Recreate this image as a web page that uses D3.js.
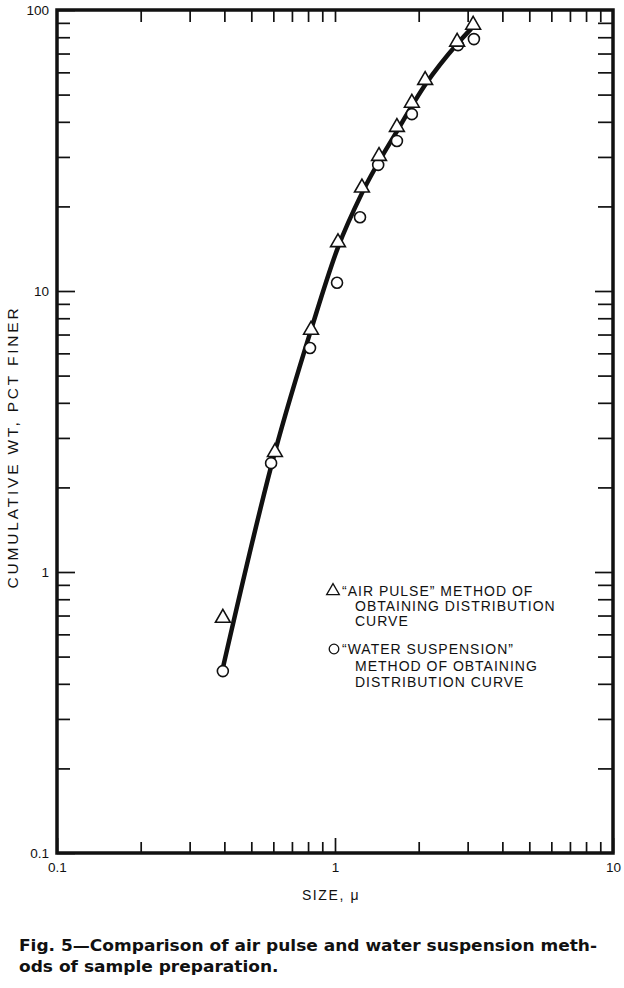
<!DOCTYPE html>
<html><head><meta charset="utf-8">
<script src="https://cdn.jsdelivr.net/npm/d3@7"></script>
<style>
html,body{margin:0;padding:0;background:#fff;}
svg{display:block;}
text{font-family:"Liberation Sans",Arial,sans-serif;fill:#111;}
</style></head>
<body>
<script>
// ---- data ----
const airSize = [0.395, 0.608, 0.82, 1.025, 1.25, 1.44, 1.67, 1.89, 2.11, 2.75, 3.14];
const airPct  = [0.686, 2.67, 7.27, 14.9, 23.3, 30.2, 38.3, 46.7, 56.3, 77, 88.5];
const waterSize = [0.395, 0.589, 0.813, 1.017, 1.23, 1.43, 1.67, 1.89, 2.77, 3.16];
const waterPct  = [0.444, 2.44, 6.27, 10.7, 18.3, 28.1, 34.2, 42.6, 75, 78.8];
const curveSize = [0.395, 0.608, 0.82, 1.025, 1.25, 1.68, 2.12, 2.75, 3.08];
const curvePct  = [0.455, 2.67, 7.27, 14.3, 22.3, 37.4, 54.5, 75.7, 85.5];
const xMajor = [0.1, 1, 10];
const xMajorLabels = ["0.1", "1", "10"];
const yMajor = [0.1, 1, 10, 100];
const yMajorLabels = ["0.1", "1", "10", "100"];
const xTitle = "SIZE, \u03BC";
const yTitle = "CUMULATIVE WT,  PCT FINER";
const legendAir = ["\u201CAIR PULSE\u201D METHOD OF", "OBTAINING DISTRIBUTION", "CURVE"];
const legendWater = ["\u201CWATER SUSPENSION\u201D", "METHOD OF OBTAINING", "DISTRIBUTION CURVE"];
const caption = ["Fig. 5\u2014Comparison of air pulse and water suspension meth-", "ods of sample preparation."];

const W = 624, H = 988;
const L = 57, R = 613, T = 10, B = 853;

const svg = d3.select("body").append("svg").attr("width", W).attr("height", H);

const x = d3.scaleLog().domain([0.1, 10]).range([L, R]);
const y = d3.scaleLog().domain([0.1, 100]).range([B, T]);

// minor + major tick values
const minorX = [], minorY = [];
[0.1, 1].forEach(d => { for (let k = 2; k <= 9; k++) minorX.push(+(d * k).toFixed(3)); });
[0.1, 1, 10].forEach(d => { for (let k = 2; k <= 9; k++) minorY.push(+(d * k).toFixed(3)); });
const allX = xMajor.concat(minorX), allY = yMajor.concat(minorY);
const isMajor = (arr) => (v) => arr.some(m => Math.abs(m - v) < 1e-9);

function styleAxis(g, majorFn, majLen, minLen, sign, horiz) {
  g.select(".domain").remove();
  g.selectAll(".tick line").attr("stroke", "#111").attr("stroke-width", 1.7)
    .each(function(d) {
      const len = (majorFn(d) ? majLen : minLen) * sign;
      if (horiz) d3.select(this).attr("y2", len); else d3.select(this).attr("x2", len);
    });
}

// bottom axis
const gB = svg.append("g").attr("transform", `translate(0,${B})`)
  .call(d3.axisBottom(x).tickValues(allX).tickSize(0).tickPadding(9)
    .tickFormat(d => { const i = xMajor.findIndex(m => Math.abs(m - d) < 1e-9); return i >= 0 ? xMajorLabels[i] : ""; }));
styleAxis(gB, isMajor(xMajor), 15, 11, -1, true);
gB.attr("font-size", 13.5);
gB.selectAll("text").attr("dy", "0.75em");

// top axis
const gT = svg.append("g").attr("transform", `translate(0,${T})`)
  .call(d3.axisTop(x).tickValues(allX.filter(v => v > 0.1 && v < 10)).tickSize(0).tickFormat(""));
styleAxis(gT, isMajor(xMajor), 12, 12, 1, true);

// left axis
const gL = svg.append("g").attr("transform", `translate(${L},0)`)
  .call(d3.axisLeft(y).tickValues(allY).tickSize(0).tickPadding(8)
    .tickFormat(d => { const i = yMajor.findIndex(m => Math.abs(m - d) < 1e-9); return i >= 0 ? yMajorLabels[i] : ""; }));
styleAxis(gL, isMajor(yMajor), 18, 13, 1, false);
gL.attr("font-size", 13.5);

// right axis
const gR = svg.append("g").attr("transform", `translate(${R},0)`)
  .call(d3.axisRight(y).tickValues(allY.filter(v => v > 0.1 && v < 100)).tickSize(0).tickFormat(""));
styleAxis(gR, isMajor(yMajor), 18, 15, -1, false);

// frame
svg.append("rect").attr("x", L).attr("y", T).attr("width", R - L).attr("height", B - T)
  .attr("fill", "none").attr("stroke", "#111").attr("stroke-width", 3.5);

// fitted curve
const curveData = curveSize.map((s, i) => [s, curvePct[i]]);
svg.append("path").datum(curveData)
  .attr("d", d3.line().x(d => x(d[0])).y(d => y(d[1])).curve(d3.curveMonotoneX))
  .attr("fill", "none").attr("stroke", "#111").attr("stroke-width", 4.5).attr("stroke-linecap", "round");

// water suspension circles
const waterData = waterSize.map((s, i) => [s, waterPct[i]]);
svg.append("g").selectAll("circle").data(waterData).join("circle")
  .attr("cx", d => x(d[0])).attr("cy", d => y(d[1])).attr("r", 5.5)
  .attr("fill", "#fff").attr("stroke", "#111").attr("stroke-width", 1.6);

// air pulse triangles
const tri = d3.symbol().type(d3.symbolTriangle).size(95);
const airData = airSize.map((s, i) => [s, airPct[i]]);
svg.append("g").selectAll("path").data(airData).join("path")
  .attr("d", tri).attr("transform", d => `translate(${x(d[0])},${y(d[1])})`)
  .attr("fill", "#fff").attr("stroke", "#111").attr("stroke-width", 1.6);

// legend
const lg = svg.append("g");
lg.append("path").attr("d", d3.symbol().type(d3.symbolTriangle).size(70))
  .attr("transform", `translate(333,591)`).attr("fill", "#fff").attr("stroke", "#111").attr("stroke-width", 1.3);
legendAir.forEach((t, i) => {
  lg.append("text").attr("x", i === 0 ? 342 : 355).attr("y", 596 + i * 15)
    .attr("font-size", 14).attr("letter-spacing", 1.0).text(t);
});
lg.append("circle").attr("cx", 334).attr("cy", 649).attr("r", 4.8)
  .attr("fill", "#fff").attr("stroke", "#111").attr("stroke-width", 1.3);
legendWater.forEach((t, i) => {
  lg.append("text").attr("x", i === 0 ? 342 : 355).attr("y", 654 + i * 16.5)
    .attr("font-size", 14).attr("letter-spacing", 1.0).text(t);
});

// axis titles
svg.append("text").attr("x", 331).attr("y", 900).attr("text-anchor", "middle")
  .attr("font-size", 14).attr("letter-spacing", 1.6).text(xTitle);
svg.append("text").attr("transform", "translate(18,447) rotate(-90)").attr("text-anchor", "middle")
  .attr("font-size", 15.5).attr("letter-spacing", 2.8).text(yTitle);

// caption
let ratio = 1;
caption.forEach((t, i) => {
  const tx = svg.append("text").attr("x", 19).attr("y", 951 + i * 21)
    .attr("font-size", 15.5).attr("font-weight", "bold")
    .style("font-family", "'DejaVu Sans Condensed','Liberation Sans Narrow',sans-serif")
    .text(t);
  const nat = tx.node().getComputedTextLength();
  if (i === 0) ratio = 578 / nat;
  tx.attr("textLength", nat * ratio).attr("lengthAdjust", "spacingAndGlyphs");
});
</script>
</body></html>
